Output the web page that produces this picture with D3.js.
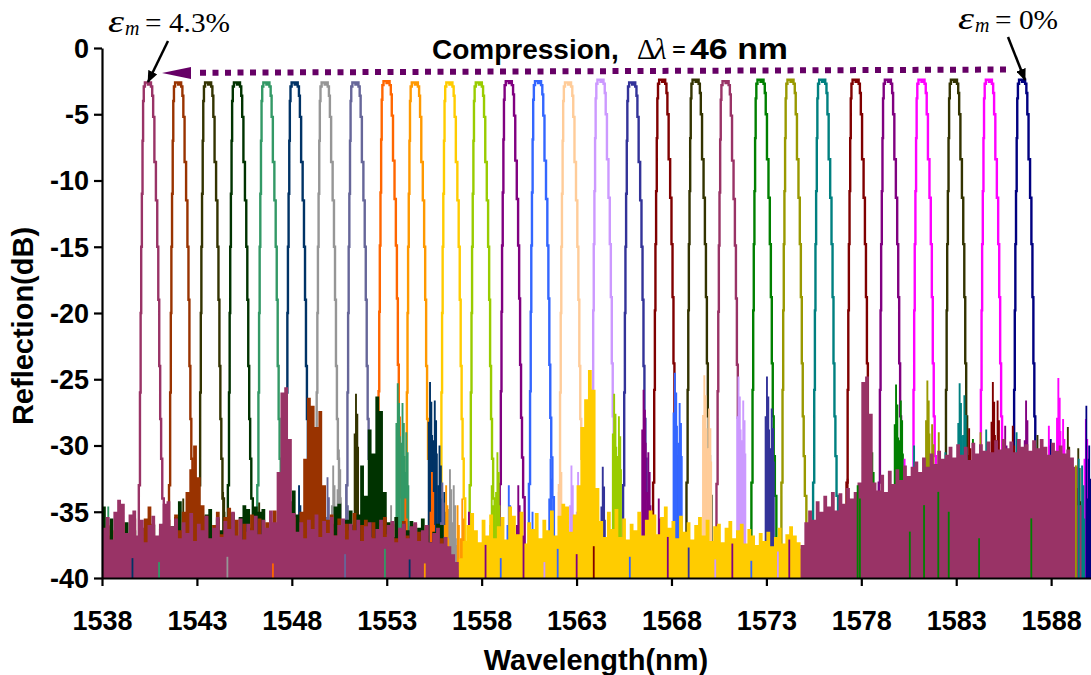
<!DOCTYPE html>
<html>
<head>
<meta charset="utf-8">
<script src="https://cdn.jsdelivr.net/npm/d3@7"></script>
<style>
  body { margin: 0; background: #fff; }
  svg { display: block; }
</style>
</head>
<body>
<svg id="chart" width="1091" height="675"></svg>
<script>
// ---- FBG reflection spectra: 29 gratings, strain 4.3% .. 0% ----
const seriesColors = [
  "#993366", "#993300", "#333300", "#003300", "#339966", "#003366", "#969696", "#666699",
  "#FF6600", "#FF9900", "#FFCC00", "#99CC00", "#800080", "#3366FF", "#FFCC99", "#CC99FF",
  "#333399", "#800000", "#333300", "#993366", "#008000", "#999900", "#008080", "#800000",
  "#800080", "#FF00FF", "#333300", "#FF00FF", "#000080"
];
// Bragg peak wavelengths (nm)
const peakCenters = [
  1540.54, 1542.13, 1543.71, 1545.23, 1546.78, 1548.27, 1549.85, 1551.47, 1553.11, 1554.60,
  1556.42, 1557.97, 1559.55, 1561.09, 1562.67, 1564.38, 1566.05, 1567.63, 1569.39, 1570.97,
  1572.81, 1574.39, 1576.06, 1577.82, 1579.52, 1581.29, 1583.00, 1584.84, 1586.59
];
// Peak reflection (dB)
const peakTops = [
  -2.6, -2.6, -2.6, -2.6, -2.6, -2.6, -2.6, -2.6, -2.5, -2.6,
  -2.6, -2.6, -2.5, -2.5, -2.6, -2.4, -2.6, -2.4, -2.4, -2.5,
  -2.4, -2.4, -2.4, -2.4, -2.4, -2.4, -2.4, -2.4, -2.4
];
// Common grating line shape: wavelength offset from centre (nm) and level (dB, for a -2.6 dB top)
const peakOffset = [-0.64,-0.56,-0.52,-0.49,-0.46,-0.42,-0.39,-0.36,-0.32,-0.24,-0.16,-0.08,0.0,
  0.08,0.13,0.18,0.26,0.34,0.40,0.45,0.50,0.55,0.60,0.67,0.76];
const peakLevel = [-40,-33,-26,-20,-15,-11,-7,-4,-2.9,-2.6,-2.6,-2.75,-2.6,
  -2.9,-3.6,-5.2,-8.6,-11.5,-15,-19,-24,-28,-31,-34,-40];

// Noise floor traces, sampled every 0.2 nm
const noiseStep = 0.2;
const leftStart = 1538.0;
const dkGreenLeft = [
  -34.6,-36.8,-35.5,-37.4,-36.2,-37.0,-35.8,-37.6,-36.4,-37.1,
  -37.2,-36.5,-37.8,-36.0,-37.3,-36.7,-35.9,-37.5,-36.1,-35.4,
  -34.2,-36.9,-37.4,-36.2,-37.0,-35.6,-36.8,-35.2,-34.8,-36.3,
  -35.5,-36.4,-35.7,-36.6,-35.1,-36.9,-35.4,-34.5,-34.8,-36.2,
  -34.6,-35.0,-34.8,-36.5,-36.8,-35.9,-37.2,-36.3,-33.6,-34.2,
  -33.4,-35.2,-36.7,-35.8,-37.1,-36.4,-35.6,-36.9,-35.3,-36.5,
  -35.9,-34.6,-34.4,-36.8,-35.6,-34.9,-36.0,-35.2,-31.5,-33.8,
  -28.8,-30.6,-26.3,-27.4,-33.5,-35.8,-36.9,-35.4,-36.6,-35.9,
  -36.4,-35.7,-37.0,-36.2,-35.5,-36.8,-37.3,-36.5,-35.9,-36.0,
  -38.4,-39.0,-39.5,-40,-40,-40
];
const brownLeft = [
  -37.5,-36.0,-38.0,-36.4,-37.2,-35.8,-37.6,-36.9,-35.5,-37.0,
  -36.2,-35.5,-34.6,-35.9,-37.0,-36.3,-37.8,-35.6,-36.8,-35.2,
  -36.4,-35.0,-33.5,-31.8,-30.0,-32.4,-34.5,-35.3,-37.1,-36.0,
  -35.0,-36.7,-35.4,-34.7,-36.9,-35.6,-37.2,-35.9,-36.5,-35.2,
  -36.8,-35.5,-37.0,-35.8,-36.3,-34.9,-36.6,-35.7,-37.1,-36.0,
  -35.4,-36.7,-35.0,-31.0,-26.4,-27.0,-28.6,-27.4,-33.0,-35.6,
  -35.2,-36.8,-35.5,-37.0,-35.9,-36.4,-35.1,-37.2,-36.0,-35.6,
  -36.9,-35.8,-37.3,-36.1,-35.4,-36.7,-35.9,-37.0,-36.3,-35.7,
  -36.8,-37.4,-35.9,-36.5,-37.2,-36.0,-37.5,-36.7,-37.9,-37.0,
  -37.6,-38.3,-38.9,-39.4,-40,-40
];
const plumLeft = [
  -36.2,-35.4,-37.1,-35.0,-34.1,-34.4,-36.6,-35.2,-34.9,-36.8,
  -35.6,-37.3,-36.0,-35.3,-36.8,-35.9,-34.4,-34.2,-36.1,-35.5,
  -37.0,-35.8,-36.6,-35.1,-37.2,-35.9,-36.4,-35.3,-37.0,-36.2,
  -35.4,-36.9,-35.7,-36.3,-35.0,-36.8,-35.5,-37.1,-35.9,-36.4,
  -35.3,-36.7,-35.6,-36.2,-34.9,-35.8,-32.0,-26.0,-25.6,-29.5,
  -35.1,-36.5,-35.8,-37.0,-35.6,-36.3,-35.2,-36.9,-35.7,-36.6,
  -35.4,-36.8,-36.0,-35.5,-37.1,-35.9,-36.4,-35.6,-37.2,-36.1,
  -35.8,-37.0,-36.3,-35.6,-36.9,-36.0,-35.7,-37.3,-36.2,-35.9,
  -37.0,-36.1,-35.8,-37.2,-36.4,-36.0,-37.3,-36.6,-36.2,-37.4,
  -36.9,-37.6,-38.2,-38.8,-39.4,-40
];
const midStart = 1556.8;
const goldMid = [
  -38.5,-37.2,-36.0,-35.1,-36.4,-37.3,-35.6,-36.8,-35.2,-37.0,
  -36.1,-35.4,-37.1,-34.6,-35.3,-36.7,-35.0,-37.4,-35.8,-36.3,
  -35.1,-37.0,-35.6,-36.4,-34.9,-36.8,-35.3,-34.4,-34.6,-36.5,
  -35.2,-33.0,-28.6,-26.5,-24.3,-25.8,-33.2,-35.7,-36.9,-35.0,
  -36.3,-34.8,-36.9,-35.5,-37.1,-35.9,-36.4,-35.0,-36.8,-35.6,
  -34.9,-35.2,-36.7,-35.4,-34.6,-36.2,-35.7,-37.0,-35.3,-36.5,
  -35.8,-37.1,-36.0,-35.4,-36.8,-35.6,-37.2,-36.1,-35.9,-37.3,
  -36.2,-35.7,-37.0,-36.4,-35.9,-37.4,-36.3,-36.8,-37.5,-36.6,
  -37.2,-36.5,-37.6,-36.9,-36.2,-37.4,-36.7,-36.1,-36.8,-37.3,
  -37.8,-40
];
const rightStart = 1574.8;
const plumRight = [
  -37.5,-35.8,-34.9,-35.6,-34.2,-35.0,-33.8,-34.6,-33.5,-34.9,
  -33.6,-34.4,-33.2,-34.0,-33.5,-32.8,-25.2,-24.8,-27.6,-32.8,
  -33.4,-32.2,-33.5,-31.9,-32.9,-31.8,-32.6,-31.5,-32.3,-31.6,
  -31.2,-32.0,-30.9,-31.6,-30.6,-31.4,-30.4,-31.0,-30.7,-30.1,
  -30.9,-29.9,-30.7,-30.1,-31.1,-29.8,-30.6,-29.9,-30.4,-29.7,
  -30.5,-29.6,-30.3,-29.5,-30.2,-29.7,-30.5,-29.5,-30.1,-29.9,
  -30.4,-29.6,-30.2,-29.5,-30.1,-30.7,-29.8,-30.4,-30.0,-30.6,
  -30.3,-30.9,-31.6,-34.5,-40
];

// Side-lobe spikes rising out of the noise floor: series, wavelength (nm), level (dB)
const spikeSeries = [
  4,5,2,7,6,2,7,4,4,5,5,6,9,12,11,13,13,15,16,11,11,12,12,12,13,13,14,14,15,15,16,16,17,
  20,20,21,21,27,22,22,22,23,23,24,25,25,26,27,28,22,
  4,4,4,5,5,5,6,6,6,7,7,7,8,8,9,9,2,2,
  11,12,13,14,15,16,
  20,20,21,21,22,22,22,23,23,25,25,24,26,26,28
];
const spikeWl = [
  1538.35,1538.55,1542.3,1549.9,1550.5,1551.4,1552.2,1553.6,1553.85,1555.3,1555.55,1556.35,1556.75,
  1557.35,1558.55,1559.45,1560.7,1562.75,1564.4,1565.0,1565.25,1566.55,1566.8,1567.35,1568.2,1568.45,1569.75,1570.0,
  1571.55,1571.8,1573.05,1573.3,1577.3,1579.85,1580.1,1581.5,1581.75,1581.95,1582.45,1583.2,1583.45,1584.95,1585.2,
  1586.7,1588.4,1588.65,1589.45,1589.85,1590.0,1589.65,
  1547.9,1552.6,1554.05,1548.4,1555.8,1556.05,1550.2,1553.25,1556.55,1550.9,1552.45,1555.95,1554.0,1555.4,1556.15,1557.0,1544.4,1546.3,
  1558.85,1559.95,1561.65,1562.15,1563.1,1563.55,
  1578.6,1583.9,1582.1,1584.3,1580.8,1584.6,1586.2,1583.7,1586.0,1580.3,1587.9,1585.6,1587.3,1588.9,1588.0
];
const spikeDb = [
  -34.6,-35.7,-34.0,-32.4,-30.3,-26.1,-31.0,-25.3,-26.8,-25.2,-26.6,-31.8,-34.5,
  -35.0,-33.0,-33.0,-35.0,-31.5,-31.6,-26.1,-27.8,-25.8,-30.5,-34.0,-24.5,-26.8,-24.7,-27.2,
  -24.8,-26.6,-24.8,-27.2,-32.5,-25.4,-26.6,-25.1,-28.4,-31.0,-30.5,-25.3,-26.2,-25.2,-26.6,
  -26.6,-24.9,-28.0,-30.2,-28.0,-31.0,-31.5,
  -33.5,-34.0,-29.0,-33.0,-30.0,-33.5,-31.5,-34.5,-33.0,-33.0,-32.5,-32.8,-34.0,-32.0,-33.0,-34.0,-33.5,-34.3,
  -30.5,-33.0,-31.0,-30.5,-32.0,-30.2,
  -30.5,-29.5,-29.0,-29.0,-30.0,-28.8,-29.0,-28.7,-28.5,-31.0,-28.5,-28.5,-29.2,-28.6,-29.5
];

// Thin traces showing through the dense floor: series, wavelength (nm), level (dB)
const streakSeries = [5,4,6,8,7,4,5,9, 12,13,12,15,13,12,17,13,12,16,15,12,13,15,12,
  20,20,20,20,20,20,20,20,21,22,28,28];
const streakWl = [1539.6,1541.0,1544.6,1547.0,1550.8,1552.9,1554.2,1555.0,
  1558.2,1559.0,1560.2,1561.3,1562.0,1563.0,1563.9,1565.8,1567.8,1568.9,1570.3,1571.2,1572.2,1573.6,1574.2,
  1577.8,1577.92,1580.55,1581.3,1582.05,1582.6,1584.2,1586.95,1589.3,1589.45,1589.85,1590.0];
const streakDb = [-38.5,-38.8,-38.4,-38.9,-38.2,-37.8,-38.6,-38.9,
  -37.5,-38.5,-36.8,-38.8,-37.8,-38.2,-37.6,-38.4,-36.9,-37.7,-38.6,-37.4,-38.7,-38.0,-37.1,
  -33.0,-34.0,-36.5,-34.5,-33.5,-35.0,-37.0,-35.5,-31.5,-31.0,-27.0,-30.0];

const xTicks = [1538, 1543, 1548, 1553, 1558, 1563, 1568, 1573, 1578, 1583, 1588];
const yTicks = [0, -5, -10, -15, -20, -25, -30, -35, -40];

// ---- layout ----
const sans = '"Liberation Sans", Arial, Helvetica, sans-serif';
const serif = '"Liberation Serif", "Times New Roman", Times, serif';
const svg = d3.select("#chart");
const x = d3.scaleLinear().domain([1538, 1590.1]).range([102, 1091]);
const y = d3.scaleLinear().domain([-40, 0]).range([578, 48]);

const defs = svg.append("defs");
defs.append("clipPath").attr("id", "plotClip")
  .append("rect").attr("x", x(1538)).attr("y", 30).attr("width", x(1590.1) - x(1538)).attr("height", y(-40) - 30);

const plot = svg.append("g").attr("clip-path", "url(#plotClip)");

// grating peaks
const peakLine = d3.line().x(d => x(d.wl)).y(d => y(d.db)).curve(d3.curveStep);
peakCenters.forEach((c, i) => {
  const shift = peakTops[i] + 2.6;
  const pts = peakOffset.map((o, k) => ({ wl: c + o, db: Math.max(-40, peakLevel[k] + shift) }));
  plot.append("path").datum(pts)
    .attr("d", peakLine)
    .attr("fill", "none")
    .attr("stroke", seriesColors[i])
    .attr("stroke-width", 2.4)
    .attr("stroke-linejoin", "miter");
});

// side-lobe spikes
const spikeArea = d3.area().x(d => x(d.wl)).y0(y(-40)).y1(d => y(d.db));
const spDx = [-0.14, -0.14, -0.07, -0.07, 0.03, 0.03, 0.10, 0.10, 0.14, 0.14];
const spDrop = [null, 3, 3, 0, 0, 1.5, 1.5, 4, 4, null];
spikeWl.forEach((w, i) => {
  const pts = spDx.map((dx, k) => ({ wl: w + dx, db: spDrop[k] === null ? -40 : spikeDb[i] - spDrop[k] }));
  plot.append("path").datum(pts).attr("d", spikeArea).attr("fill", seriesColors[spikeSeries[i]]);
});

// noise floor bands
const bandArea = d3.area().x(d => x(d.wl)).y0(y(-40)).y1(d => y(d.db)).curve(d3.curveStepAfter);
function band(start, vals, color) {
  const pts = vals.map((v, i) => ({ wl: start + i * noiseStep, db: v }));
  pts.push({ wl: start + vals.length * noiseStep, db: -40 });
  plot.append("path").datum(pts).attr("d", bandArea).attr("fill", color);
}
band(leftStart, dkGreenLeft, seriesColors[3]);
band(leftStart, brownLeft, seriesColors[1]);
band(leftStart, plumLeft, seriesColors[0]);
band(midStart, goldMid, seriesColors[10]);
band(rightStart, plumRight, seriesColors[19]);

// thin traces on top of the floor
streakWl.forEach((w, i) => {
  plot.append("rect")
    .attr("x", x(w) - 0.8).attr("width", 1.8)
    .attr("y", y(streakDb[i])).attr("height", y(-40) - y(streakDb[i]))
    .attr("fill", seriesColors[streakSeries[i]]);
});

// ---- axes ----
const xAxis = svg.append("g").attr("transform", `translate(0,${y(-40)})`)
  .call(d3.axisBottom(x).tickValues(xTicks).tickSize(8).tickSizeOuter(0).tickFormat(d => String(d)));
const yAxis = svg.append("g").attr("transform", `translate(${x(1538)},0)`)
  .call(d3.axisLeft(y).tickValues(yTicks).tickSize(8).tickSizeOuter(0).tickFormat(d => String(d)));
[xAxis, yAxis].forEach(g => {
  g.select(".domain").attr("stroke", "#000").attr("stroke-width", 2.2);
  g.selectAll(".tick line").attr("stroke", "#000").attr("stroke-width", 2.2);
  g.selectAll(".tick text")
    .attr("font-family", sans).attr("font-weight", "bold").attr("font-size", 27).attr("fill", "#000");
});
xAxis.selectAll(".tick text").attr("y", 52).attr("dy", 0);
yAxis.selectAll(".tick text").attr("x", -13).attr("dy", "0.35em");

svg.append("text")
  .attr("x", 596).attr("y", 670).attr("text-anchor", "middle")
  .attr("font-family", sans).attr("font-weight", "bold").attr("font-size", 29)
  .text("Wavelength(nm)");
svg.append("text")
  .attr("transform", "translate(33,326) rotate(-90)").attr("text-anchor", "middle")
  .attr("font-family", sans).attr("font-weight", "bold").attr("font-size", 29)
  .text("Reflection(dB)");

// ---- annotations ----
defs.append("marker").attr("id", "headBlack")
  .attr("viewBox", "0 0 12 10").attr("refX", 11).attr("refY", 5)
  .attr("markerWidth", 12).attr("markerHeight", 10).attr("markerUnits", "userSpaceOnUse")
  .attr("orient", "auto")
  .append("path").attr("d", "M0,0 L12,5 L0,10 Z").attr("fill", "#000");

function strainLabel(xe, base, value, valueWidth) {
  svg.append("text").attr("x", xe).attr("y", base)
    .attr("font-family", serif).attr("font-style", "italic").attr("font-size", 31)
    .attr("textLength", 16).attr("lengthAdjust", "spacingAndGlyphs").text("ε");
  svg.append("text").attr("x", xe + 17).attr("y", base + 3)
    .attr("font-family", serif).attr("font-style", "italic").attr("font-size", 20).text("m");
  svg.append("text").attr("x", xe + 37).attr("y", base)
    .attr("font-family", serif).attr("font-size", 28)
    .attr("textLength", valueWidth).attr("lengthAdjust", "spacingAndGlyphs")
    .text("= " + value);
}
strainLabel(108, 32, "4.3%", 85);
strainLabel(958, 29, "0%", 63);

svg.append("line").attr("x1", 168).attr("y1", 41).attr("x2", 148).attr("y2", 82)
  .attr("stroke", "#000").attr("stroke-width", 2.5).attr("marker-end", "url(#headBlack)");
svg.append("line").attr("x1", 1008).attr("y1", 37).attr("x2", 1025).attr("y2", 80)
  .attr("stroke", "#000").attr("stroke-width", 2.5).attr("marker-end", "url(#headBlack)");

// compression arrow
svg.append("line").attr("x1", 1006).attr("y1", 69.5).attr("x2", 194).attr("y2", 72.8)
  .attr("stroke", "#660066").attr("stroke-width", 6).attr("stroke-dasharray", "6 6.5");
svg.append("path").attr("d", "M162,73 L191,67 L191,79 Z").attr("fill", "#660066");

svg.append("text").attr("x", 432).attr("y", 59)
  .attr("font-family", sans).attr("font-weight", "bold").attr("font-size", 28).text("Compression,");
svg.append("text").attr("x", 637).attr("y", 59)
  .attr("font-family", serif).attr("font-size", 29).text("Δ");
svg.append("text").attr("x", 654).attr("y", 59)
  .attr("font-family", serif).attr("font-style", "italic").attr("font-size", 29).text("λ");
svg.append("text").attr("x", 672).attr("y", 59)
  .attr("font-family", serif).attr("font-weight", "bold").attr("font-size", 28)
  .attr("textLength", 14).attr("lengthAdjust", "spacingAndGlyphs").text("=");
svg.append("text").attr("x", 690).attr("y", 59)
  .attr("font-family", sans).attr("font-weight", "bold").attr("font-size", 29)
  .attr("textLength", 98).attr("lengthAdjust", "spacingAndGlyphs").text("46 nm");
</script>
</body>
</html>
